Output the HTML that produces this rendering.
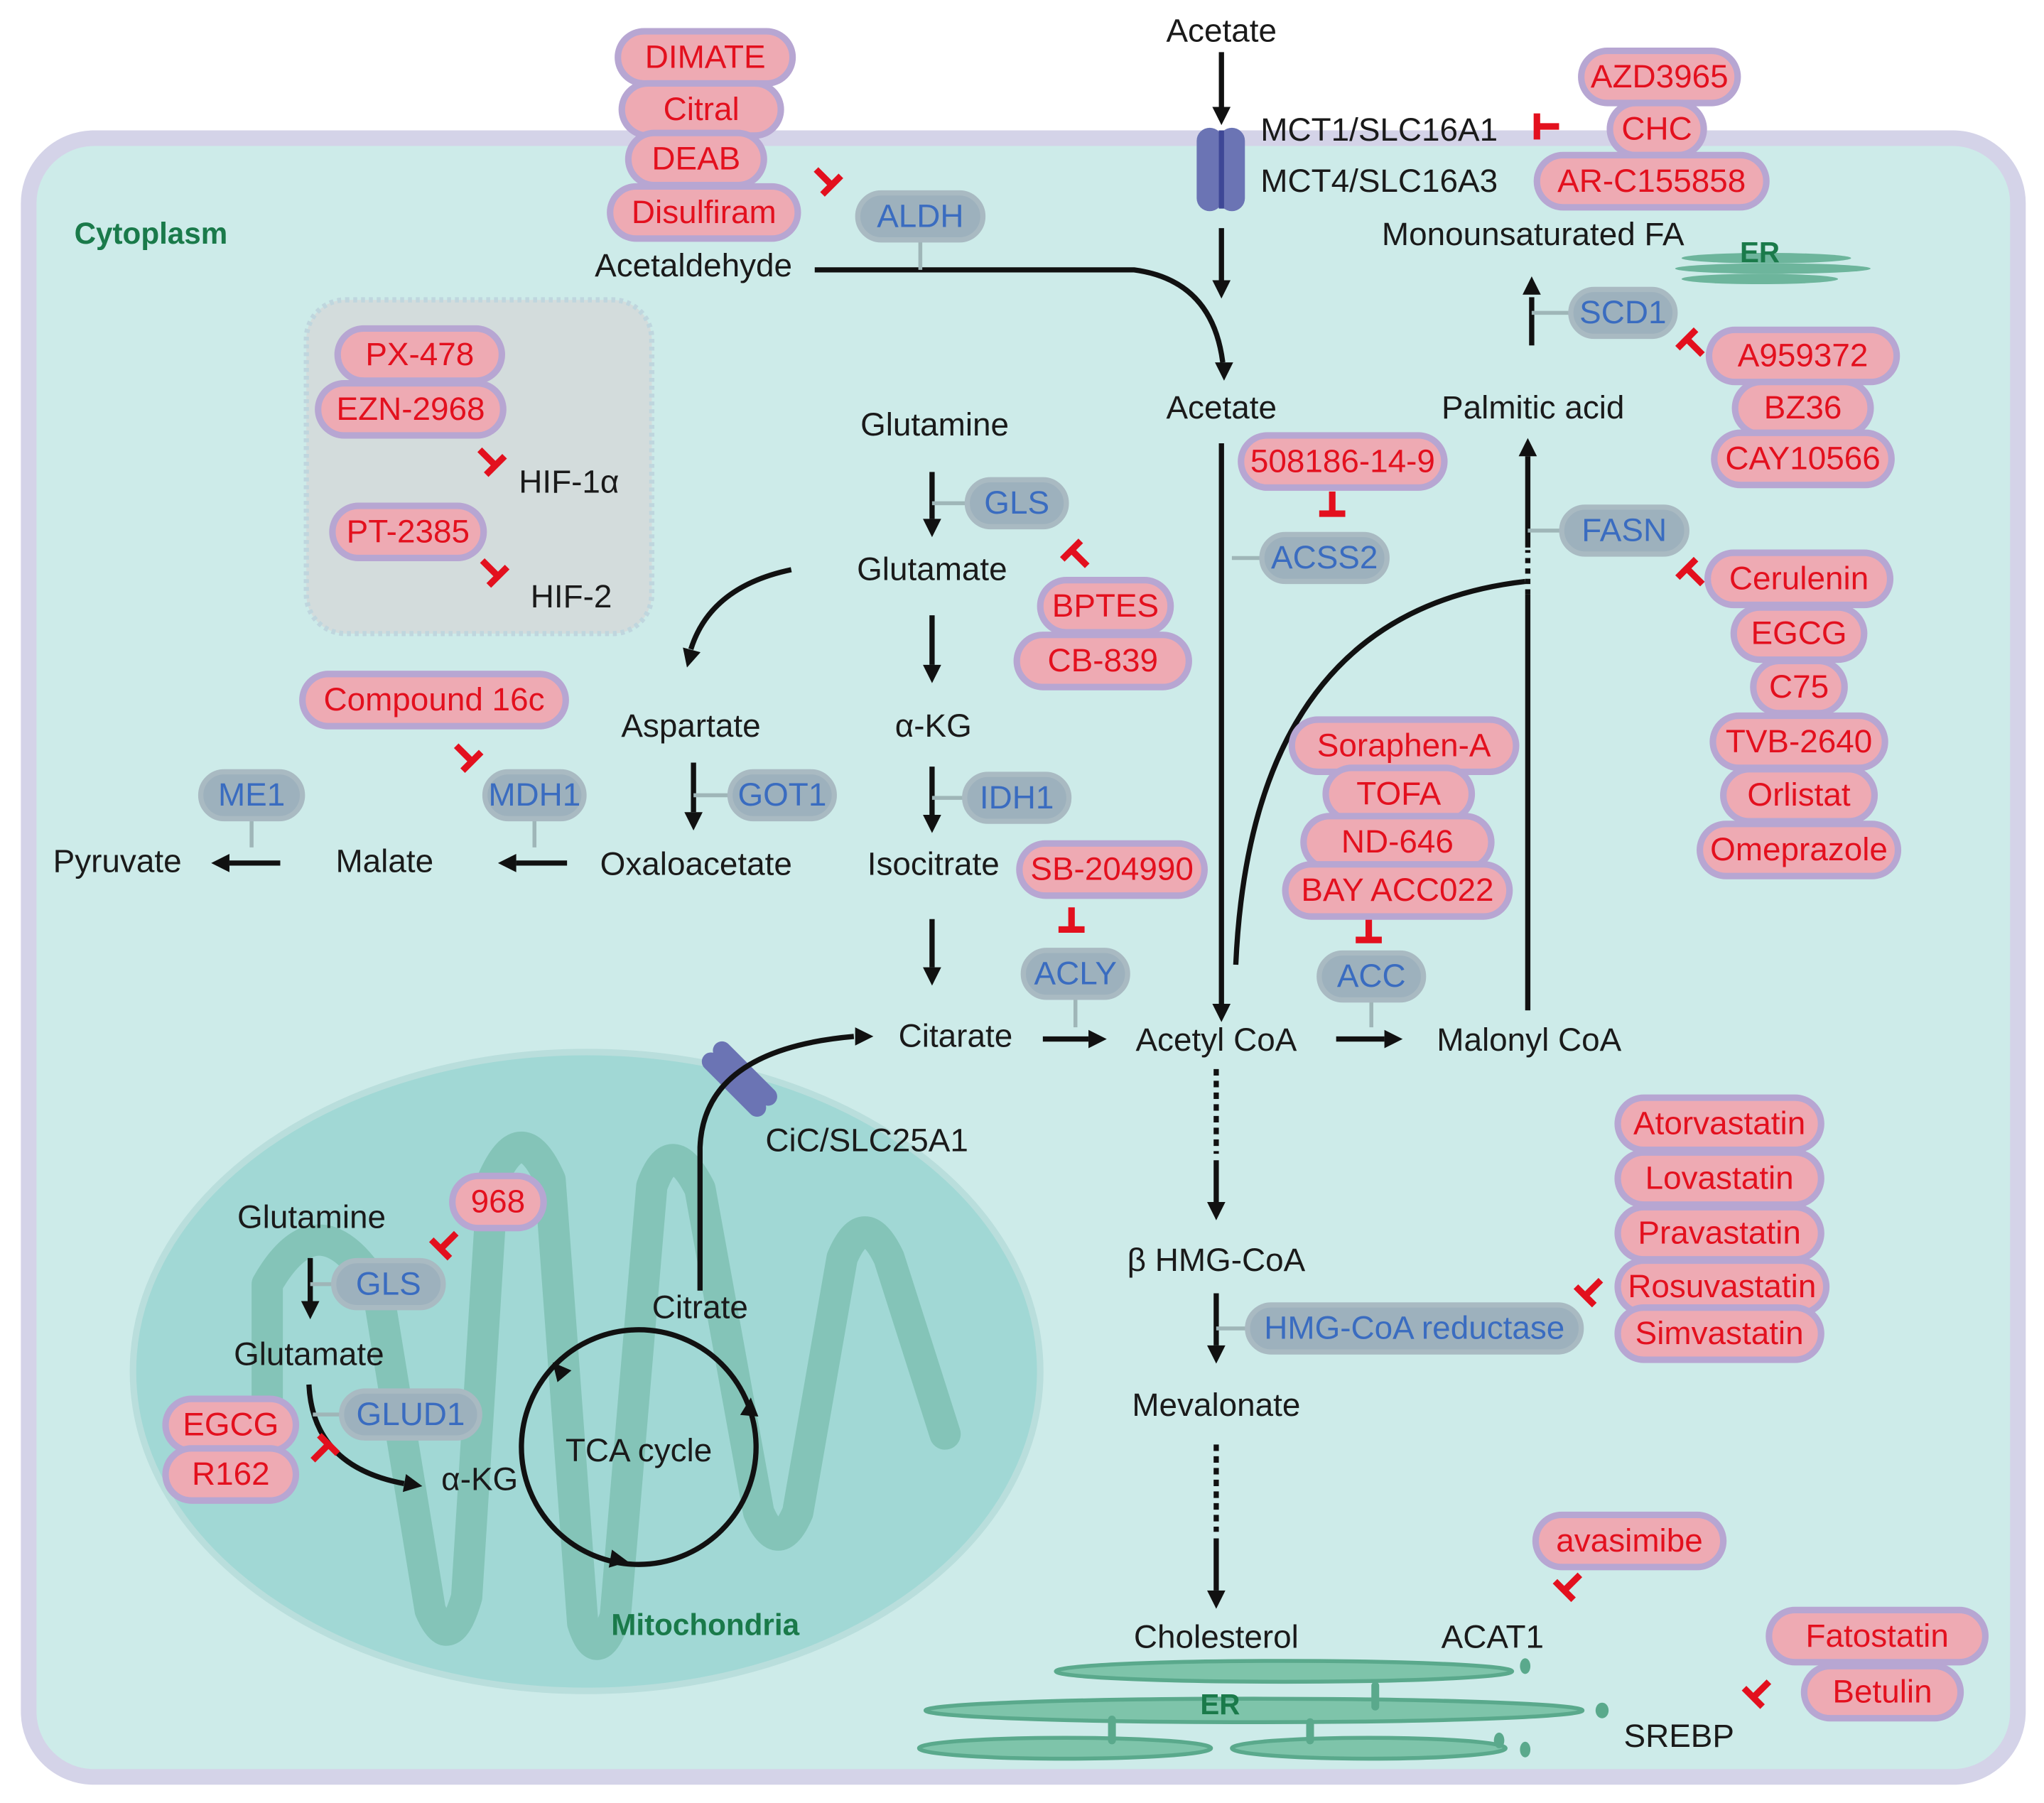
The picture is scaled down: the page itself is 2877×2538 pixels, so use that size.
<!DOCTYPE html>
<html><head><meta charset="utf-8"><style>
html,body{margin:0;padding:0;background:#fff}
svg{display:block}
text{font-family:"Liberation Sans",Arial,sans-serif;font-size:25px;fill:#1a1a1a}
.d rect{fill:#eeaab3;stroke:#b7a6d2;stroke-width:5}
.d text{fill:#e3101e;text-anchor:middle}
.e rect{fill:#9db1bd;stroke:#a9bac2;stroke-width:4}
.e text{fill:#3a6cc0;text-anchor:middle}
.c{text-anchor:middle}
.ar{stroke:#111;stroke-width:4;fill:none}
.t{stroke:#e3101e;stroke-width:5;fill:none}
.cn{stroke:#9fb6b8;stroke-width:3}
</style></head><body>
<svg width="2877" height="2538" viewBox="0 0 1568 1383" preserveAspectRatio="none" xmlns="http://www.w3.org/2000/svg">
<defs>
<g id="T"><line x1="0" y1="0" x2="0" y2="17" class="t"/><line x1="-10" y1="17" x2="10" y2="17" class="t"/></g>
<g id="A"><path d="M-7,-14 L0,0 L7,-14 Z" fill="#111"/></g>
</defs>
<rect width="1568" height="1383" fill="#fff"/>
<rect x="22" y="106" width="1526" height="1257" rx="50" fill="#cdebe9" stroke="#d4d3e8" stroke-width="12"/>
<text x="57" y="187" style="fill:#1a7a4a;font-weight:bold;font-size:23px">Cytoplasm</text>

<rect x="235" y="230" width="265" height="256" rx="30" fill="#d3dcdc" stroke="#bfd6de" stroke-width="4" stroke-dasharray="3 3"/>

<ellipse cx="450" cy="1052" rx="348" ry="245" fill="#a1d8d5" stroke="#b9dedc" stroke-width="5"/>
<path d="M205,1110 L205,985 Q245,915 290,990 L330,1235 Q345,1270 358,1225 L378,905 Q400,855 422,905 L447,1245 Q458,1280 472,1240 L500,910 Q515,868 537,912 L582,1160 Q597,1195 612,1160 L646,965 Q663,925 682,965 L725,1100" fill="none" stroke="#84c4b8" stroke-width="24" stroke-linejoin="round" stroke-linecap="round"/>
<text x="541" y="1254" class="c" style="fill:#1a7a4a;font-weight:bold;font-size:23px">Mitochondria</text>

<g fill="#6db59c">
<ellipse cx="1355" cy="198" rx="65" ry="4"/><ellipse cx="1360" cy="206" rx="75" ry="4"/><ellipse cx="1350" cy="214" rx="60" ry="4"/>
</g>
<text x="1350" y="201" class="c" style="fill:#1a7a4a;font-weight:bold;font-size:22px">ER</text>

<g fill="#7ec4aa" stroke="#5aa98c" stroke-width="3">
<ellipse cx="985" cy="1282" rx="175" ry="8"/>
<ellipse cx="962" cy="1312" rx="252" ry="9"/>
<ellipse cx="817" cy="1341" rx="112" ry="8"/>
<ellipse cx="1050" cy="1341" rx="105" ry="8"/>
</g>
<g fill="#5aa98c"><ellipse cx="1170" cy="1278" rx="4" ry="6"/><ellipse cx="1229" cy="1312" rx="5" ry="6"/><ellipse cx="1170" cy="1342" rx="4" ry="6"/><ellipse cx="1150" cy="1335" rx="4" ry="6"/><rect x="850" y="1316" width="6" height="22" rx="3"/><rect x="1002" y="1318" width="6" height="20" rx="3"/><rect x="1052" y="1290" width="6" height="22" rx="3"/></g>
<text x="936" y="1315" class="c" style="fill:#1a7a4a;font-weight:bold;font-size:22px">ER</text>

<g fill="#6b74b4"><rect x="918" y="98" width="20" height="64" rx="10"/><rect x="935" y="98" width="20" height="64" rx="10"/></g>
<line x1="937" y1="100" x2="937" y2="160" stroke="#3e4796" stroke-width="4"/>
<g transform="translate(568,827) rotate(45)"><rect x="-32" y="-12" width="64" height="14" rx="7" fill="#6b74b4"/><rect x="-32" y="0" width="64" height="14" rx="7" fill="#6b74b4"/></g>

<g class="ar">
<line x1="937" y1="40" x2="937" y2="82"/>
<line x1="937" y1="175" x2="937" y2="215"/>
<path d="M625,207 L870,207 Q930,215 938,278"/>
<line x1="937" y1="340" x2="937" y2="770"/>
<path d="M948,740 Q960,470 1170,446"/>
<line x1="1172" y1="775" x2="1172" y2="456"/>
<line x1="1172" y1="456" x2="1172" y2="422" stroke-dasharray="4 4"/>
<line x1="1172" y1="420" x2="1172" y2="350"/>
<line x1="1175" y1="265" x2="1175" y2="228"/>
<line x1="715" y1="362" x2="715" y2="398"/>
<line x1="715" y1="472" x2="715" y2="510"/>
<line x1="715" y1="588" x2="715" y2="625"/>
<line x1="715" y1="705" x2="715" y2="742"/>
<line x1="800" y1="797" x2="835" y2="797"/>
<line x1="1025" y1="797" x2="1062" y2="797"/>
<path d="M607,437 Q545,450 530,498"/>
<line x1="532" y1="585" x2="532" y2="623"/>
<line x1="435" y1="662" x2="396" y2="662"/>
<line x1="215" y1="662" x2="176" y2="662"/>
<line x1="933" y1="820" x2="933" y2="885" stroke-dasharray="5 4"/>
<line x1="933" y1="890" x2="933" y2="922"/>
<line x1="933" y1="992" x2="933" y2="1032"/>
<line x1="933" y1="1108" x2="933" y2="1175" stroke-dasharray="5 4"/>
<line x1="933" y1="1180" x2="933" y2="1220"/>
<path d="M537,990 L537,880 Q540,805 655,795"/>
<line x1="238" y1="965" x2="238" y2="998"/>
<path d="M237,1062 Q240,1125 310,1138"/>
<circle cx="490" cy="1110" r="90"/>
</g>
<use href="#A" transform="translate(937,96)"/>
<use href="#A" transform="translate(937,229)"/>
<use href="#A" transform="translate(939,292)"/>
<use href="#A" transform="translate(937,784)"/>
<use href="#A" transform="translate(1172,336) rotate(180)"/>
<use href="#A" transform="translate(1175,212) rotate(180)"/>
<use href="#A" transform="translate(715,412)"/>
<use href="#A" transform="translate(715,524)"/>
<use href="#A" transform="translate(715,639)"/>
<use href="#A" transform="translate(715,756)"/>
<use href="#A" transform="translate(849,797) rotate(-90)"/>
<use href="#A" transform="translate(1076,797) rotate(-90)"/>
<use href="#A" transform="translate(527,512) rotate(15)"/>
<use href="#A" transform="translate(532,637)"/>
<use href="#A" transform="translate(382,662) rotate(90)"/>
<use href="#A" transform="translate(162,662) rotate(90)"/>
<use href="#A" transform="translate(933,936)"/>
<use href="#A" transform="translate(933,1046)"/>
<use href="#A" transform="translate(933,1234)"/>
<use href="#A" transform="translate(670,795) rotate(-90)"/>
<use href="#A" transform="translate(238,1012)"/>
<use href="#A" transform="translate(324,1140) rotate(-80)"/>
<use href="#A" transform="translate(424,1045) rotate(140)"/>
<use href="#A" transform="translate(576,1072) rotate(185)"/>
<use href="#A" transform="translate(482,1198) rotate(-80)"/>

<g class="cn">
<line x1="706" y1="185" x2="706" y2="207"/>
<line x1="1172" y1="407" x2="1198" y2="407"/>
<line x1="1175" y1="240" x2="1205" y2="240"/>
<line x1="945" y1="428" x2="968" y2="428"/>
<line x1="715" y1="386" x2="742" y2="386"/>
<line x1="715" y1="612" x2="740" y2="612"/>
<line x1="825" y1="766" x2="825" y2="788"/>
<line x1="1052" y1="768" x2="1052" y2="788"/>
<line x1="532" y1="610" x2="560" y2="610"/>
<line x1="410" y1="629" x2="410" y2="650"/>
<line x1="193" y1="629" x2="193" y2="650"/>
<line x1="238" y1="985" x2="256" y2="985"/>
<line x1="240" y1="1085" x2="263" y2="1085"/>
<line x1="933" y1="1019" x2="958" y2="1019"/>
</g>

<use href="#T" transform="translate(626,130) rotate(-45)"/>
<use href="#T" transform="translate(1196,97) rotate(90)"/>
<use href="#T" transform="translate(1306,272) rotate(135)"/>
<use href="#T" transform="translate(1306,448) rotate(135)"/>
<use href="#T" transform="translate(1022,377)"/>
<use href="#T" transform="translate(834,434) rotate(135)"/>
<use href="#T" transform="translate(822,696)"/>
<use href="#T" transform="translate(1050,704)"/>
<use href="#T" transform="translate(350,572) rotate(-45)"/>
<use href="#T" transform="translate(368,345) rotate(-45)"/>
<use href="#T" transform="translate(370,430) rotate(-45)"/>
<use href="#T" transform="translate(350,946) rotate(45)"/>
<use href="#T" transform="translate(240,1120) rotate(-135)"/>
<use href="#T" transform="translate(1228,982) rotate(45)"/>
<use href="#T" transform="translate(1212,1208) rotate(45)"/>
<use href="#T" transform="translate(1357,1290) rotate(45)"/>

<g class="c">
<text x="937" y="32">Acetate</text>
<text x="532" y="212">Acetaldehyde</text>
<text x="937" y="321">Acetate</text>
<text x="1176" y="321">Palmitic acid</text>
<text x="1176" y="188">Monounsaturated FA</text>
<text x="717" y="334">Glutamine</text>
<text x="715" y="445">Glutamate</text>
<text x="716" y="565">α-KG</text>
<text x="716" y="671">Isocitrate</text>
<text x="733" y="803">Citarate</text>
<text x="933" y="806">Acetyl CoA</text>
<text x="1173" y="806">Malonyl CoA</text>
<text x="530" y="565">Aspartate</text>
<text x="534" y="671">Oxaloacetate</text>
<text x="295" y="669">Malate</text>
<text x="90" y="669">Pyruvate</text>
<text x="933" y="975">β HMG-CoA</text>
<text x="933" y="1086">Mevalonate</text>
<text x="933" y="1264">Cholesterol</text>
<text x="1145" y="1264">ACAT1</text>
<text x="1288" y="1340">SREBP</text>
<text x="665" y="883">CiC/SLC25A1</text>
<text x="239" y="942">Glutamine</text>
<text x="237" y="1047">Glutamate</text>
<text x="368" y="1143">α-KG</text>
<text x="490" y="1121">TCA cycle</text>
<text x="537" y="1011">Citrate</text>
</g>
<text x="967" y="108">MCT1/SLC16A1</text>
<text x="967" y="147">MCT4/SLC16A3</text>
<text x="398" y="378">HIF-1α</text>
<text x="407" y="466">HIF-2</text>

<g class="d">
<g transform="translate(541,44)"><rect x="-67" y="-20" width="134" height="40" rx="20"/><text y="8">DIMATE</text></g>
<g transform="translate(538,84)"><rect x="-61" y="-20" width="122" height="40" rx="20"/><text y="8">Citral</text></g>
<g transform="translate(534,122)"><rect x="-52" y="-20" width="104" height="40" rx="20"/><text y="8">DEAB</text></g>
<g transform="translate(540,163)"><rect x="-72" y="-20" width="144" height="40" rx="20"/><text y="8">Disulfiram</text></g>
<g transform="translate(1273,59)"><rect x="-60" y="-20" width="120" height="40" rx="20"/><text y="8">AZD3965</text></g>
<g transform="translate(1271,99)"><rect x="-36" y="-20" width="72" height="40" rx="20"/><text y="8">CHC</text></g>
<g transform="translate(1267,139)"><rect x="-88" y="-20" width="176" height="40" rx="20"/><text y="8">AR-C155858</text></g>
<g transform="translate(1383,273)"><rect x="-72" y="-20" width="144" height="40" rx="20"/><text y="8">A959372</text></g>
<g transform="translate(1383,313)"><rect x="-52" y="-20" width="104" height="40" rx="20"/><text y="8">BZ36</text></g>
<g transform="translate(1383,352)"><rect x="-68" y="-20" width="136" height="40" rx="20"/><text y="8">CAY10566</text></g>
<g transform="translate(1380,444)"><rect x="-70" y="-20" width="140" height="40" rx="20"/><text y="8">Cerulenin</text></g>
<g transform="translate(1380,486)"><rect x="-50" y="-20" width="100" height="40" rx="20"/><text y="8">EGCG</text></g>
<g transform="translate(1380,527)"><rect x="-35" y="-20" width="70" height="40" rx="20"/><text y="8">C75</text></g>
<g transform="translate(1380,569)"><rect x="-66" y="-20" width="132" height="40" rx="20"/><text y="8">TVB-2640</text></g>
<g transform="translate(1380,610)"><rect x="-58" y="-20" width="116" height="40" rx="20"/><text y="8">Orlistat</text></g>
<g transform="translate(1380,652)"><rect x="-76" y="-20" width="152" height="40" rx="20"/><text y="8">Omeprazole</text></g>
<g transform="translate(1030,354)"><rect x="-78" y="-20" width="156" height="40" rx="20"/><text y="8">508186-14-9</text></g>
<g transform="translate(848,465)"><rect x="-50" y="-20" width="100" height="40" rx="20"/><text y="8">BPTES</text></g>
<g transform="translate(846,507)"><rect x="-66" y="-20" width="132" height="40" rx="20"/><text y="8">CB-839</text></g>
<g transform="translate(853,667)"><rect x="-71" y="-20" width="142" height="40" rx="20"/><text y="8">SB-204990</text></g>
<g transform="translate(1077,572)"><rect x="-86" y="-20" width="172" height="40" rx="20"/><text y="8">Soraphen-A</text></g>
<g transform="translate(1073,609)"><rect x="-56" y="-20" width="112" height="40" rx="20"/><text y="8">TOFA</text></g>
<g transform="translate(1072,646)"><rect x="-72" y="-20" width="144" height="40" rx="20"/><text y="8">ND-646</text></g>
<g transform="translate(1072,683)"><rect x="-86" y="-20" width="172" height="40" rx="20"/><text y="8">BAY ACC022</text></g>
<g transform="translate(333,537)"><rect x="-101" y="-20" width="202" height="40" rx="20"/><text y="8">Compound 16c</text></g>
<g transform="translate(322,272)"><rect x="-63" y="-20" width="126" height="40" rx="20"/><text y="8">PX-478</text></g>
<g transform="translate(315,314)"><rect x="-71" y="-20" width="142" height="40" rx="20"/><text y="8">EZN-2968</text></g>
<g transform="translate(313,408)"><rect x="-58" y="-20" width="116" height="40" rx="20"/><text y="8">PT-2385</text></g>
<g transform="translate(382,922)"><rect x="-35" y="-20" width="70" height="40" rx="20"/><text y="8">968</text></g>
<g transform="translate(177,1093)"><rect x="-50" y="-20" width="100" height="40" rx="20"/><text y="8">EGCG</text></g>
<g transform="translate(177,1131)"><rect x="-50" y="-20" width="100" height="40" rx="20"/><text y="8">R162</text></g>
<g transform="translate(1319,862)"><rect x="-78" y="-20" width="156" height="40" rx="20"/><text y="8">Atorvastatin</text></g>
<g transform="translate(1319,904)"><rect x="-78" y="-20" width="156" height="40" rx="20"/><text y="8">Lovastatin</text></g>
<g transform="translate(1319,946)"><rect x="-78" y="-20" width="156" height="40" rx="20"/><text y="8">Pravastatin</text></g>
<g transform="translate(1321,987)"><rect x="-80" y="-20" width="160" height="40" rx="20"/><text y="8">Rosuvastatin</text></g>
<g transform="translate(1319,1023)"><rect x="-78" y="-20" width="156" height="40" rx="20"/><text y="8">Simvastatin</text></g>
<g transform="translate(1250,1182)"><rect x="-72" y="-20" width="144" height="40" rx="20"/><text y="8">avasimibe</text></g>
<g transform="translate(1440,1255)"><rect x="-83" y="-20" width="166" height="40" rx="20"/><text y="8">Fatostatin</text></g>
<g transform="translate(1444,1298)"><rect x="-60" y="-20" width="120" height="40" rx="20"/><text y="8">Betulin</text></g>
</g>

<g class="e">
<g transform="translate(706,166)"><rect x="-48" y="-18" width="96" height="36" rx="18"/><text y="8">ALDH</text></g>
<g transform="translate(1245,240)"><rect x="-40" y="-18" width="80" height="36" rx="18"/><text y="8">SCD1</text></g>
<g transform="translate(1246,407)"><rect x="-48" y="-18" width="96" height="36" rx="18"/><text y="8">FASN</text></g>
<g transform="translate(1016,428)"><rect x="-48" y="-18" width="96" height="36" rx="18"/><text y="8">ACSS2</text></g>
<g transform="translate(780,386)"><rect x="-38" y="-18" width="76" height="36" rx="18"/><text y="8">GLS</text></g>
<g transform="translate(780,612)"><rect x="-40" y="-18" width="80" height="36" rx="18"/><text y="8">IDH1</text></g>
<g transform="translate(825,747)"><rect x="-40" y="-18" width="80" height="36" rx="18"/><text y="8">ACLY</text></g>
<g transform="translate(1052,749)"><rect x="-40" y="-18" width="80" height="36" rx="18"/><text y="8">ACC</text></g>
<g transform="translate(600,610)"><rect x="-40" y="-18" width="80" height="36" rx="18"/><text y="8">GOT1</text></g>
<g transform="translate(410,610)"><rect x="-38" y="-18" width="76" height="36" rx="18"/><text y="8">MDH1</text></g>
<g transform="translate(193,610)"><rect x="-39" y="-18" width="78" height="36" rx="18"/><text y="8">ME1</text></g>
<g transform="translate(298,985)"><rect x="-42" y="-18" width="84" height="36" rx="18"/><text y="8">GLS</text></g>
<g transform="translate(315,1085)"><rect x="-53" y="-18" width="106" height="36" rx="18"/><text y="8">GLUD1</text></g>
<g transform="translate(1085,1019)"><rect x="-128" y="-18" width="256" height="36" rx="18"/><text y="8">HMG-CoA reductase</text></g>
</g>
</svg>
</body></html>
